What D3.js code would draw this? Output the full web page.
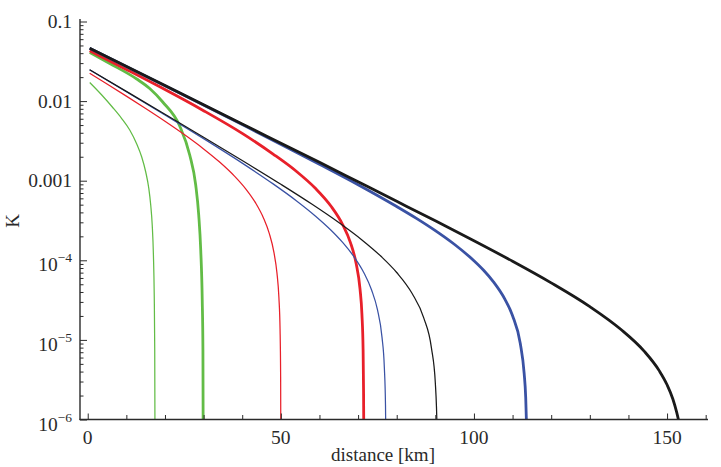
<!DOCTYPE html>
<html>
<head>
<meta charset="utf-8">
<script src="https://cdn.jsdelivr.net/npm/d3@7"></script>
<style>
  body { margin: 0; background: #fff; }
  svg { display: block; }
  text { font-family: "Liberation Serif", "DejaVu Serif", serif; fill: #2a2a2a; }
</style>
</head>
<body>
<div id="chart"></div>
<script>
// curves: [distance km, K]
var greenThin = [[0.52, 0.01713], [3.63, 0.01193], [6.47, 0.00831], [8.8, 0.006044], [10.88, 0.004334], [12.69, 0.002891], [13.98, 0.001985], [15.02, 0.001286], [15.8, 8.09e-4], [16.31, 4.95e-4], [16.7, 2.777e-4], [17.01, 1.166e-4], [17.22, 3.665e-5], [17.35, 7.46e-6], [17.4, 1e-6]];
var greenThick = [[0.52, 0.04079], [5.7, 0.02968], [12.69, 0.01895], [16.05, 0.0144], [19.42, 0.009743], [23.82, 0.004866], [26.41, 0.002103], [27.96, 8.83e-4], [28.74, 3.708e-4], [29.26, 1.347e-4], [29.65, 3.172e-5], [29.83, 7.46e-6], [29.88, 1e-6]];
var redThin = [[0.5, 0.02243], [5, 0.01641], [10, 0.01154], [15, 0.00807], [20, 0.005583], [25, 0.003797], [30, 0.00251], [34, 0.00174], [38, 0.001141], [41, 7.79e-4], [43.5, 5.22e-4], [45.5, 3.41e-4], [47, 2.18e-4], [48.2, 1.268e-4], [49, 6.9e-5], [49.5, 3.4e-5], [49.8, 1.35e-5], [49.95, 3.4e-6], [49.99, 6.8e-7]];
var redThick = [[0.5, 0.0430], [10, 0.0250], [20, 0.01396], [30, 0.00758], [40, 0.00393], [48, 0.00216], [54, 0.001313], [59, 7.97e-4], [63, 4.775e-4], [66, 2.813e-4], [68, 1.681e-4], [69.5, 9.1e-5], [70.5, 4.36e-5], [71, 2.08e-5], [71.3, 7.5e-6], [71.42, 2.2e-6], [71.46, 1e-6]];
var blueThin = [[0.5, 0.02466], [10, 0.0131], [20, 0.006691], [30, 0.003376], [40, 0.001663], [48, 9.12e-4], [54, 5.61e-4], [59, 3.58e-4], [63, 2.384e-4], [66, 1.676e-4], [69, 1.096e-4], [71.5, 6.97e-5], [73.5, 4.23e-5], [75, 2.41e-5], [76.2, 1.075e-5], [76.8, 4.5e-6], [77.1, 1.5e-6], [77.2, 5e-7]];
var blueThick = [[0.5, 0.0461], [20, 0.01557], [40, 0.00507], [60, 0.00161], [70, 8.91e-4], [80, 4.74e-4], [85, 3.39e-4], [90, 2.36e-4], [95, 1.579e-4], [100, 9.88e-5], [102.5, 7.5e-5], [105, 5.4e-5], [108, 3.25e-5], [110, 2.01e-5], [112, 9.0e-6], [113, 3.8e-6], [113.4, 1.9e-6], [113.6, 0.9e-6]];
var blackThin = [[0.5, 0.02483], [10, 0.01326], [20, 0.006842], [30, 0.003518], [40, 0.001795], [50, 9.02e-4], [58, 5.09e-4], [65, 2.984e-4], [71, 1.804e-4], [76, 1.115e-4], [80, 7.03e-5], [84, 3.82e-5], [87, 1.893e-5], [89, 7.9e-6], [90, 2.88e-6], [90.3, 1.42e-6], [90.4, 9.5e-7]];
var blackThick = [[0.5, 0.0462], [20, 0.01566], [40, 0.00516], [60, 0.0017], [70, 9.68e-4], [80, 5.51e-4], [90, 3.13e-4], [100, 1.76e-4], [110, 9.73e-5], [120, 5.21e-5], [130, 2.62e-5], [138, 1.36e-5], [144, 7.28e-6], [148, 4.08e-6], [150, 2.73e-6], [151.5, 1.81e-6], [152.5, 1.23e-6], [153, 0.97e-6]];

var yTicks = [0.1, 0.01, 0.001, 1e-4, 1e-5, 1e-6];
var yTickText = ["0.1", "0.01", "0.001", "10|\u22124", "10|\u22125", "10|\u22126"];
var xTicks = [0, 50, 100, 150];

var series = [
  { data: greenThin, color: "#62bc46", w: 1.25 },
  { data: greenThick, color: "#62bc46", w: 2.8 },
  { data: redThin, color: "#e8202a", w: 1.25 },
  { data: redThick, color: "#e8202a", w: 2.8 },
  { data: blueThin, color: "#3a52a4", w: 1.25 },
  { data: blueThick, color: "#3a52a4", w: 2.8 },
  { data: blackThin, color: "#1a1a1a", w: 1.25 },
  { data: blackThick, color: "#1a1a1a", w: 2.8 }
];

var width = 721;
var height = 467;

var svg = d3.select("#chart")
  .append("svg")
  .attr("width", width)
  .attr("height", height);

var xScale = d3.scaleLinear().domain([-2, 160.6]).range([80, 708]);
var yScale = d3.scaleLog().domain([1e-6, 0.1]).range([419.5, 21.5]);

svg.append("clipPath").attr("id", "plotClip")
  .append("rect")
  .attr("x", 80).attr("y", 18)
  .attr("width", 628).attr("height", 401.5);

var line = d3.line()
  .x(function(d) { return xScale(d[0]); })
  .y(function(d) { return yScale(d[1]); })
  .curve(d3.curveMonotoneX);

var curves = svg.append("g").attr("clip-path", "url(#plotClip)");
series.forEach(function(s) {
  curves.append("path")
    .attr("d", line(s.data))
    .attr("fill", "none")
    .attr("stroke", s.color)
    .attr("stroke-width", s.w)
    .attr("stroke-linejoin", "round");
});

// y axis, ticks pointing inward
var yMinor = yScale.ticks().filter(function(t) { return yTicks.indexOf(t) < 0; });
var yAxisMajor = d3.axisRight(yScale).tickValues(yTicks).tickSize(7).tickFormat("");
var yAxisMinor = d3.axisRight(yScale).tickValues(yMinor).tickSize(3.5).tickFormat("");
svg.append("g").attr("transform", "translate(80,0)").call(yAxisMinor);
svg.append("g").attr("transform", "translate(80,0)").call(yAxisMajor);

// x axis, ticks pointing inward
var xMinor = d3.range(10, 170, 10).filter(function(t) { return t % 50 !== 0; });
var xAxisMajor = d3.axisTop(xScale).tickValues(xTicks).tickSize(6).tickFormat("");
var xAxisMinor = d3.axisTop(xScale).tickValues(xMinor).tickSize(4.5).tickFormat("");
svg.append("g").attr("transform", "translate(0,419.5)").call(xAxisMinor);
svg.append("g").attr("transform", "translate(0,419.5)").call(xAxisMajor);

svg.selectAll(".domain").attr("stroke", "none");
svg.selectAll(".tick line").attr("stroke", "#2a2a2a").attr("stroke-width", 1);
svg.append("line").attr("x1", 80).attr("x2", 80).attr("y1", 19).attr("y2", 420)
  .attr("stroke", "#2a2a2a").attr("stroke-width", 1.4);
svg.append("line").attr("x1", 79.5).attr("x2", 708).attr("y1", 419.5).attr("y2", 419.5)
  .attr("stroke", "#2a2a2a").attr("stroke-width", 1.4);

// y tick labels
yTicks.forEach(function(t, i) {
  var parts = yTickText[i].split("|");
  var txt = svg.append("text")
    .attr("x", 72)
    .attr("y", yScale(t) + (parts[1] ? 11 : 6.5))
    .attr("text-anchor", "end")
    .attr("font-size", 19.5);
  txt.append("tspan").text(parts[0]);
  if (parts[1]) {
    txt.append("tspan").attr("font-size", 13.5).attr("dy", -9).text(parts[1]);
  }
});

// x tick labels
xTicks.forEach(function(t) {
  svg.append("text")
    .attr("x", xScale(t))
    .attr("y", 444)
    .attr("text-anchor", "middle")
    .attr("font-size", 19.5)
    .text(t);
});

svg.append("text")
  .attr("x", 383)
  .attr("y", 461)
  .attr("text-anchor", "middle")
  .attr("font-size", 19)
  .text("distance [km]");

svg.append("text")
  .attr("transform", "translate(19,221)rotate(-90)")
  .attr("text-anchor", "middle")
  .attr("font-size", 19)
  .text("K");
</script>
</body>
</html>
